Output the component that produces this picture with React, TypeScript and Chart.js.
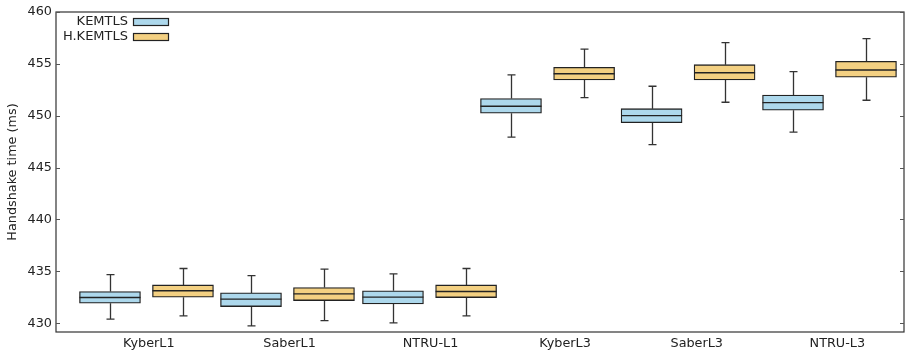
import React, { useEffect, useRef } from "react";
import { Chart, registerables } from "chart.js";

Chart.register(...registerables);

const categories = ["KyberL1", "SaberL1", "NTRU-L1", "KyberL3", "SaberL3", "NTRU-L3"];
const categoryTicks = [1, 2.022, 3.046, 4.023, 4.979, 6];
const yTicks = [430, 435, 440, 445, 450, 455, 460];

// x positions (data units) of each box
const kemtlsPos = [0.718, 1.742, 2.773, 3.63, 4.651, 5.678];
const hkemtlsPos = [1.248, 2.272, 3.304, 4.161, 5.181, 6.208];

// KEMTLS box statistics (ms)
const kemtlsWhiskerLow = [430.39, 429.74, 430.03, 447.93, 447.21, 448.41];
const kemtlsQ1 = [431.93, 431.6, 431.86, 450.24, 449.33, 450.53];
const kemtlsMedian = [432.47, 432.32, 432.51, 450.91, 450.01, 451.26];
const kemtlsQ3 = [433.05, 432.92, 433.12, 451.65, 450.68, 452.0];
const kemtlsWhiskerHigh = [434.69, 434.59, 434.75, 453.93, 452.84, 454.25];

// H.KEMTLS box statistics (ms)
const hkemtlsWhiskerLow = [430.71, 430.25, 430.71, 451.74, 451.3, 451.49];
const hkemtlsQ1 = [432.51, 432.18, 432.47, 453.45, 453.45, 453.71];
const hkemtlsMedian = [433.12, 432.83, 433.05, 454.05, 454.15, 454.41];
const hkemtlsQ3 = [433.69, 433.43, 433.69, 454.67, 454.92, 455.25];
const hkemtlsWhiskerHigh = [435.27, 435.21, 435.27, 456.43, 457.04, 457.43];

const FONT = '"DejaVu Sans", "Bitstream Vera Sans", sans-serif';

const boxPlugin = {
  id: "boxExtras",
  beforeDatasetsDraw(chart: any) {
    const ctx = chart.ctx;
    const xs = chart.scales.x;
    const ys = chart.scales.y;
    ctx.save();
    ctx.strokeStyle = "#333333";
    ctx.lineWidth = 1.3;
    chart.data.datasets.forEach((ds: any) => {
      ds.positions.forEach((p: number, i: number) => {
        const x = Math.round(xs.getPixelForValue(p)) + 0.5;
        const pairs = [
          [ds.q3[i], ds.whiskerHigh[i]],
          [ds.q1[i], ds.whiskerLow[i]],
        ];
        pairs.forEach(([from, to]) => {
          const y0 = ys.getPixelForValue(from);
          const y1 = ys.getPixelForValue(to);
          ctx.beginPath();
          ctx.moveTo(x, y0);
          ctx.lineTo(x, y1);
          ctx.moveTo(x - 4, y1);
          ctx.lineTo(x + 4, y1);
          ctx.stroke();
        });
      });
    });
    ctx.restore();
  },
  afterDatasetsDraw(chart: any) {
    const ctx = chart.ctx;
    const ys = chart.scales.y;
    ctx.save();
    ctx.strokeStyle = "#222222";
    ctx.lineWidth = 1.4;
    chart.data.datasets.forEach((ds: any, di: number) => {
      const meta = chart.getDatasetMeta(di);
      ds.median.forEach((m: number, i: number) => {
        const el = meta.data[i];
        const y = ys.getPixelForValue(m);
        ctx.beginPath();
        ctx.moveTo(el.x - el.width / 2, y);
        ctx.lineTo(el.x + el.width / 2, y);
        ctx.stroke();
      });
    });
    ctx.restore();
  },
  afterDraw(chart: any) {
    const ctx = chart.ctx;
    const a = chart.chartArea;
    const ys = chart.scales.y;
    ctx.save();
    // frame
    ctx.strokeStyle = "#333333";
    ctx.lineWidth = 1.2;
    ctx.strokeRect(a.left, a.top, a.right - a.left, a.bottom - a.top);
    // inward ticks on left and right
    ctx.strokeStyle = "#555555";
    ctx.lineWidth = 1;
    ys.ticks.forEach((t: any) => {
      const y = Math.round(ys.getPixelForValue(t.value)) + 0.5;
      ctx.beginPath();
      ctx.moveTo(a.left, y);
      ctx.lineTo(a.left + 4, y);
      ctx.moveTo(a.right, y);
      ctx.lineTo(a.right - 4, y);
      ctx.stroke();
    });
    // legend (text left of swatch)
    ctx.font = "13px " + FONT;
    ctx.textAlign = "right";
    ctx.textBaseline = "middle";
    chart.data.datasets.forEach((ds: any, i: number) => {
      const yc = a.top + 10 + i * 15;
      ctx.fillStyle = "#222222";
      ctx.fillText(ds.label, a.left + 72, yc);
      ctx.fillStyle = ds.backgroundColor;
      ctx.fillRect(a.left + 77.5, yc - 3.5, 35, 7);
      ctx.strokeStyle = "#222222";
      ctx.lineWidth = 1.2;
      ctx.strokeRect(a.left + 77.5, yc - 3.5, 35, 7);
    });
    ctx.restore();
  },
};

function makeDataset(
  label: string,
  color: string,
  positions: number[],
  wl: number[],
  q1: number[],
  med: number[],
  q3: number[],
  wh: number[]
) {
  return {
    label,
    data: positions.map((x, i) => ({ x, y: [q1[i], q3[i]] })),
    backgroundColor: color,
    borderColor: "#222222",
    borderWidth: 1.3,
    borderSkipped: false,
    barThickness: 61,
    grouped: false,
    positions,
    whiskerLow: wl,
    q1,
    median: med,
    q3,
    whiskerHigh: wh,
  };
}

export default function App() {
  const ref = useRef<HTMLCanvasElement | null>(null);
  useEffect(() => {
    document.body.style.margin = "0";
    if (!ref.current) return;
    const chart = new Chart(ref.current, {
      type: "bar",
      data: {
        datasets: [
          makeDataset("KEMTLS", "#add8ec", kemtlsPos, kemtlsWhiskerLow, kemtlsQ1, kemtlsMedian, kemtlsQ3, kemtlsWhiskerHigh),
          makeDataset("H.KEMTLS", "#f3d082", hkemtlsPos, hkemtlsWhiskerLow, hkemtlsQ1, hkemtlsMedian, hkemtlsQ3, hkemtlsWhiskerHigh),
        ] as any,
      },
      options: {
        responsive: false,
        animation: false,
        devicePixelRatio: 1,
        layout: { padding: { top: 12, right: 2, left: 0, bottom: 0 } },
        plugins: { legend: { display: false }, tooltip: { enabled: false } },
        scales: {
          x: {
            type: "linear",
            min: 0.326,
            max: 6.484,
            offset: false,
            grid: { display: false, drawTicks: false, tickLength: 0 },
            border: { display: false },
            afterBuildTicks: (s: any) => {
              s.ticks = categoryTicks.map((v) => ({ value: v }));
            },
            afterFit: (s: any) => {
              s.height = 22;
            },
            ticks: {
              color: "#222222",
              font: { family: FONT, size: 12.8 },
              padding: 4,
              maxRotation: 0,
              autoSkip: false,
              callback: (_v: any, i: number) => categories[i] ?? "",
            },
          },
          y: {
            type: "linear",
            min: 429.15,
            max: 460,
            grid: { display: false, drawTicks: false, tickLength: 0 },
            border: { display: false },
            afterBuildTicks: (s: any) => {
              s.ticks = yTicks.map((v) => ({ value: v }));
            },
            afterFit: (s: any) => {
              s.width = 56;
            },
            title: {
              display: true,
              text: "Handshake time (ms)",
              color: "#222222",
              font: { family: FONT, size: 12.8 },
              padding: { top: 5, bottom: 2 },
            },
            ticks: {
              color: "#222222",
              font: { family: FONT, size: 12.8 },
              padding: 4,
              callback: (v: any) => String(v),
            },
          },
        },
      },
      plugins: [boxPlugin],
    } as any);
    return () => chart.destroy();
  }, []);
  return (
    <div style={{ width: 906, height: 354 }}>
      <canvas ref={ref} width={906} height={354} style={{ display: "block" }} />
    </div>
  );
}
